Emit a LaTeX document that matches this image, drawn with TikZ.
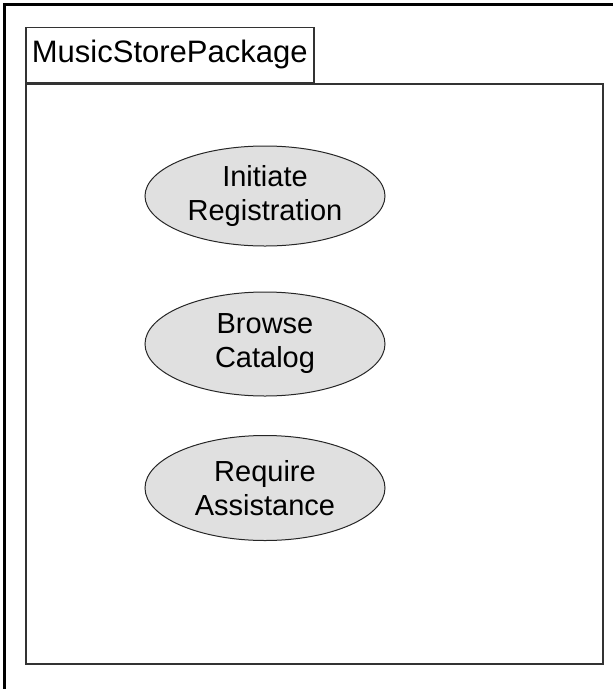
\documentclass[tikz,border=0pt]{standalone}
\usepackage{fontspec}
\setmainfont{Liberation Sans}
\usepackage{tikz}
\usetikzlibrary{positioning, shapes.geometric}

\begin{document}
\begin{tikzpicture}[x=1pt, y=-1pt,
    frame/.style={draw=black!80, line width=1.5pt, inner sep=0pt},
    usecase/.style={ellipse, draw=black!85, line width=1pt, fill=black!12,
      minimum width=240pt, minimum height=100pt, inner sep=0pt, align=center,
      font=\fontsize{29}{34}\selectfont}]
  \useasboundingbox (0,0) rectangle (613,689);
  % page border, only top and left show
  \draw[line width=3pt] (613,4.5) -- (4.5,4.5) -- (4.5,689);

  % package
  \node[frame, anchor=north west, minimum width=577pt, minimum height=580pt] (body) at (25,83) {};
  \node[frame, anchor=south west, minimum width=288pt, minimum height=55pt,
    font=\fontsize{31}{34}\selectfont] (tab) at (25,83) {MusicStorePackage};

  % use cases
  \node[usecase] (init) at (265,196) {Initiate\\Registration};
  \node[usecase, minimum height=104pt] (browse) at (265,344) {Browse\\Catalog};
  \node[usecase, minimum height=105pt] (assist) at (265,488) {Require\\Assistance};
\end{tikzpicture}
\end{document}
